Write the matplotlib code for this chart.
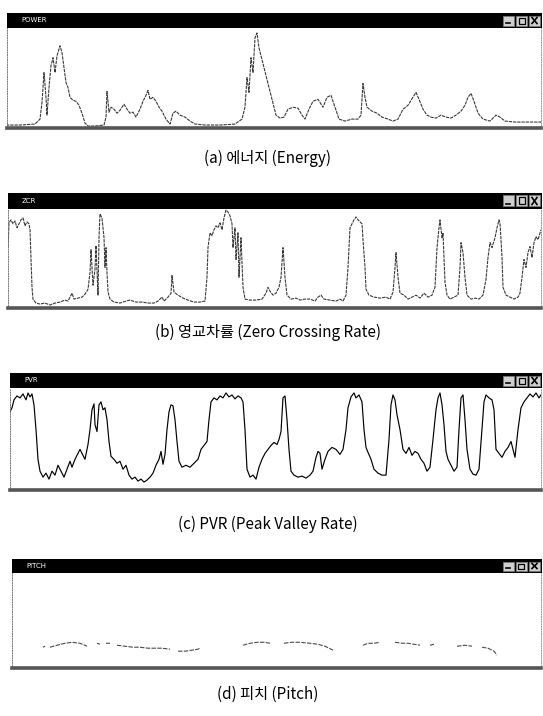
import numpy as np
import matplotlib
matplotlib.use('Agg')
import matplotlib.pyplot as plt
from matplotlib.patches import Rectangle

plt.rcParams['font.family'] = ['Noto Sans CJK KR', 'DejaVu Sans']

W, H = 543, 716
nan = np.nan

# 에너지 (frame, value)
energy_frame = [6, 20, 35, 40, 42, 44, 46, 47, 49, 51, 53, 55, 57, 60, 62, 64, 66, 68, 70, 73, 76, 79, 82, 85, 88, 95,
                104, 106, 107, 109, 111, 114, 117, 120, 124, 127, 130, 133, 136, 140, 143, 146, 148, 150, 153, 156,
                159, 162, 166, 170, 173, 176, 180, 185, 190, 195, 205, 220, 235, 242, 245, 247, 249, 251, 253, 255,
                257, 259, 261, 264, 267, 270, 273, 276, 280, 284, 288, 293, 298, 302, 305, 309, 313, 318, 323, 327,
                331, 335, 339, 345, 352, 358, 361, 363, 365, 367, 372, 377, 382, 388, 393, 398, 403, 408, 413, 416,
                419, 423, 427, 431, 436, 441, 446, 451, 456, 461, 465, 468, 471, 474, 478, 483, 490, 496, 500, 505,
                515, 525, 541]
energy_val = [2, 2, 3, 8, 25, 55, 30, 12, 40, 62, 70, 55, 72, 82, 75, 60, 45, 40, 30, 27, 26, 22, 14, 4, 1, 1,
              2, 10, 36, 15, 20, 18, 14, 17, 23, 18, 14, 15, 10, 18, 26, 32, 37, 28, 30, 26,
              20, 16, 8, 3, 14, 16, 12, 10, 6, 3, 2, 2, 3, 8, 20, 50, 35, 70, 55, 90,
              95, 80, 72, 60, 48, 36, 24, 12, 9, 10, 18, 20, 19, 12, 8, 18, 26, 28, 20, 30,
              32, 20, 8, 6, 8, 8, 12, 44, 30, 20, 16, 14, 10, 8, 6, 8, 18, 22, 30, 35,
              28, 18, 12, 10, 9, 12, 10, 9, 12, 16, 22, 30, 34, 26, 14, 8, 6, 12, 10, 6,
              5, 5, 5]

# 영교차률
zcr_frame = [8, 9, 11, 13, 15, 17, 19, 21, 23, 25, 27, 29, 30, 31, 32, 33, 36, 40, 45, 50, 55, 60, 65, 68, 70, 72,
             74, 78, 82, 85, 88, 90, 91, 93, 95, 96, 98, 99, 100, 102, 104, 105, 106, 107, 108, 110, 114, 120, 126,
             130, 136, 142, 148, 154, 158, 162, 164, 168, 171, 172, 174, 178, 183, 188, 194, 200, 205, 207, 208,
             210, 212, 214, 216, 218, 220, 222, 224, 226, 228, 230, 232, 233, 235, 236, 238, 239, 241, 243, 245,
             250, 256, 262, 266, 268, 270, 273, 276, 279, 281, 283, 285, 287, 291, 296, 300, 305, 310, 315, 318,
             321, 324, 330, 336, 340, 343, 346, 348, 350, 352, 354, 356, 358, 360, 362, 363, 365, 366, 369, 374,
             380, 386, 390, 393, 395, 396, 398, 400, 404, 408, 412, 416, 420, 424, 428, 432, 435, 437, 439, 440,
             442, 443, 445, 447, 450, 454, 458, 460, 461, 463, 465, 467, 471, 475, 479, 483, 486, 488, 490, 492,
             495, 497, 499, 500, 502, 503, 506, 510, 514, 518, 520, 522, 524, 526, 528, 530, 532, 534, 536, 538, 541]
zcr_val = [60, 85, 88, 84, 87, 80, 84, 88, 90, 82, 86, 84, 78, 50, 20, 8, 4, 3, 4, 2, 4, 5, 7, 6, 10, 14,
           8, 9, 10, 13, 18, 35, 58, 22, 38, 62, 12, 70, 94, 90, 70, 40, 60, 35, 15, 8, 5, 4, 6,
           7, 5, 5, 4, 4, 6, 10, 6, 10, 14, 32, 15, 12, 9, 7, 5, 5, 6, 30, 60,
           75, 72, 78, 82, 80, 85, 78, 90, 98, 96, 92, 84, 60, 80, 48, 75, 30, 70, 20, 8,
           7, 7, 8, 14, 20, 16, 12, 14, 20, 30, 60, 30, 12, 8, 9, 7, 8, 8, 6, 10,
           12, 8, 7, 6, 8, 6, 12, 40, 80, 84, 88, 91, 88, 86, 84, 68, 40, 18, 12, 10,
           9, 10, 8, 15, 40, 55, 30, 14, 12, 8, 10, 12, 9, 14, 10, 12, 20, 60, 80, 88,
           70, 75, 25, 12, 8, 10, 12, 40, 65, 55, 30, 12, 8, 9, 8, 12, 28, 50, 65, 60,
           70, 80, 88, 85, 50, 20, 12, 10, 8, 10, 14, 30, 48, 40, 55, 61, 50, 65, 71, 68, 78]

# PVR
pvr_frame = [10, 12, 14, 17, 20, 23, 26, 28, 30, 32, 34, 36, 38, 40, 43, 46, 49, 52, 55, 58, 61, 64, 67, 70, 72, 75,
             78, 80, 83, 85, 88, 90, 92, 94, 95, 97, 99, 101, 103, 105, 107, 109, 111, 114, 117, 120, 123, 126,
             129, 132, 135, 138, 141, 144, 147, 150, 153, 156, 159, 161, 163, 165, 167, 169, 171, 173, 175, 177,
             179, 182, 186, 190, 194, 198, 201, 204, 207, 209, 211, 214, 217, 220, 223, 226, 229, 232, 235, 238,
             241, 243, 245, 247, 250, 253, 256, 259, 262, 265, 268, 271, 274, 277, 279, 281, 283, 285, 287, 289,
             291, 294, 298, 302, 306, 310, 313, 316, 318, 320, 322, 325, 328, 332, 336, 340, 343, 346, 348, 351,
             354, 356, 359, 362, 364, 366, 368, 371, 374, 378, 382, 386, 389, 391, 393, 395, 397, 400, 403, 406,
             409, 412, 415, 418, 421, 424, 427, 430, 433, 436, 438, 440, 442, 444, 446, 448, 451, 454, 457, 459,
             461, 463, 465, 467, 470, 473, 476, 479, 482, 484, 486, 489, 492, 494, 496, 499, 502, 505, 508, 511,
             513, 515, 518, 521, 524, 527, 530, 533, 536, 539, 541]
pvr_val = [78, 82, 90, 94, 92, 96, 90, 97, 93, 96, 85, 60, 30, 18, 12, 16, 10, 18, 14, 24, 18, 12, 20, 28, 22, 30,
           36, 40, 34, 30, 45, 60, 80, 86, 65, 58, 85, 88, 80, 82, 70, 48, 33, 30, 26, 28, 20, 24,
           14, 10, 12, 8, 10, 7, 9, 12, 16, 24, 30, 38, 25, 35, 60, 78, 85, 84, 70, 48,
           28, 22, 24, 22, 26, 30, 40, 44, 48, 70, 88, 92, 90, 94, 92, 97, 93, 95, 91, 94,
           92, 88, 60, 20, 12, 14, 10, 22, 30, 36, 40, 44, 47, 45, 50, 58, 92, 94, 70, 40,
           18, 14, 12, 13, 11, 14, 18, 32, 38, 36, 20, 30, 38, 42, 40, 35, 40, 60, 82, 93,
           97, 92, 95, 88, 60, 42, 37, 30, 20, 16, 14, 14, 50, 85, 95, 90, 75, 60, 40, 36,
           42, 34, 38, 36, 30, 26, 18, 22, 50, 80, 92, 97, 85, 65, 38, 30, 24, 18, 22, 60,
           92, 95, 70, 40, 20, 15, 14, 20, 60, 88, 95, 92, 90, 80, 40, 36, 32, 38, 42, 48,
           40, 32, 60, 82, 88, 92, 96, 93, 97, 92, 95]

# 피치 (nan = 무성 구간)
pitch_frame = [43, 45, 47, 50, 57, 65, 72, 80, 87, 92, 97, 100, 103, 106, 110, 113, 117, 125, 133, 140, 148, 155,
               162, 170, 174, 178, 185, 192, 198, 200, 220, 243, 250, 258, 265, 270, 277, 284, 292, 300, 310, 318,
               325, 333, 350, 363, 368, 374, 380, 384, 388, 391, 395, 402, 408, 414, 420, 425, 430, 434, 437, 440,
               450, 457, 465, 472, 477, 482, 488, 494, 497]
pitch_val = [20, 21, nan, 20, 22, 24, 25, 24, 21, nan, 24, 23, nan, 24, 24, nan, 22, 21, 20, 20, 19, 19,
             19, 18, nan, 16, 16, 17, 18, 19, nan, 22, 24, 25, 25, 24, nan, 24, 25, 25, 24, 23,
             21, 17, nan, 22, 24, 24, 25, nan, 26, nan, 25, 24, 24, 23, 22, nan, 22, 23, nan, 21,
             nan, 21, 22, 21, nan, 20, 19, 16, 12]

titles = ['POWER', 'ZCR', 'PVR', 'PITCH']
captions = ['(a) 에너지 (Energy)', '(b) 영교차률 (Zero Crossing Rate)',
            '(c) PVR (Peak Valley Rate)', '(d) 피치 (Pitch)']

# 창 위치 (px): left, title top, plot top, plot bottom, caption y
boxes = [(7, 13, 28, 128, 158),
         (8, 193, 209, 308, 332),
         (10, 373, 388, 490, 524),
         (12, 559, 573, 668, 694)]
right = 541

fig = plt.figure(figsize=(W / 100, H / 100), dpi=100)


def px_axes(x0, y0, x1, y1):
    return fig.add_axes([x0 / W, 1 - y1 / H, (x1 - x0) / W, (y1 - y0) / H])


def title_bar(x0, y0, y1, name):
    ax = px_axes(x0, y0, right + 1, y1)
    ax.set_facecolor('black')
    w, h = right + 1 - x0, y1 - y0
    ax.set_xlim(0, w)
    ax.set_ylim(0, h)
    ax.set_xticks([])
    ax.set_yticks([])
    for s in ax.spines.values():
        s.set_visible(False)
    ax.text(14, h / 2, name, color='white', fontsize=5, va='center', family='DejaVu Sans')
    # 최소화 / 최대화 / 닫기 버튼
    bw, bh = 11, h - 5
    for i, kind in enumerate(['min', 'max', 'close']):
        bx = w - 39 + i * 13
        by = 2.5
        ax.add_patch(Rectangle((bx, by), bw, bh, facecolor='#cfcfcf', edgecolor='#7a7a7a', lw=0.6))
        if kind == 'min':
            ax.plot([bx + 3, bx + 7], [by + 2.5, by + 2.5], color='black', lw=1.2)
        elif kind == 'max':
            ax.add_patch(Rectangle((bx + 2.5, by + 2), 6, bh - 4, facecolor='none', edgecolor='black', lw=0.9))
        else:
            ax.plot([bx + 3, bx + 8], [by + 2, by + bh - 2], color='black', lw=1.2)
            ax.plot([bx + 3, bx + 8], [by + bh - 2, by + 2], color='black', lw=1.2)


series = [(energy_frame, energy_val, '#3a3a3a', (0, (3, 0.8)), 0.8),
          (zcr_frame, zcr_val, '#3a3a3a', (0, (3, 0.8)), 0.8),
          (pvr_frame, pvr_val, 'black', '-', 0.85),
          (pitch_frame, pitch_val, '#4a4a4a', (0, (4, 1.2)), 0.8)]

for (x0, ty, py, pb, cy), name, cap, (fr, val, col, ls, lw) in zip(boxes, titles, captions, series):
    title_bar(x0, ty, py, name)
    ax = px_axes(x0, py, right, pb)
    ax.plot(fr, val, color=col, ls=ls, lw=lw)
    ax.set_xlim(x0, right)
    ax.set_ylim(-1, pb - py)
    ax.set_xticks([])
    ax.set_yticks([])
    ax.spines['top'].set_visible(False)
    ax.spines['left'].set_linestyle((0, (1, 1.5)))
    ax.spines['left'].set_color('#777777')
    ax.spines['left'].set_linewidth(0.7)
    ax.spines['right'].set_linestyle((0, (1, 1.5)))
    ax.spines['right'].set_color('#999999')
    ax.spines['right'].set_linewidth(0.7)
    ax.spines['bottom'].set_color('#555555')
    ax.spines['bottom'].set_linewidth(2.6)
    fig.text(268 / W, 1 - cy / H, cap, ha='center', va='center', fontsize=11)

fig.savefig('out.png', dpi=100)
